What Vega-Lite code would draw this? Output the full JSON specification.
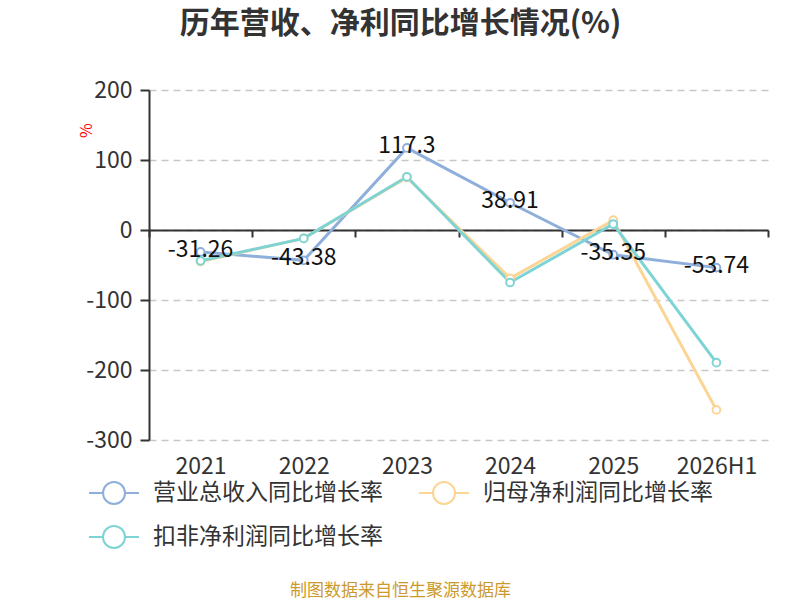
{
  "$schema": "https://vega.github.io/schema/vega-lite/v6.json",
  "width": 619,
  "height": 350,
  "autosize": {"type": "none"},
  "padding": {"left": 149, "top": 90, "right": 32, "bottom": 160},
  "background": "white",
  "title": {
    "text": "历年营收、净利同比增长情况(%)",
    "fontSize": 30,
    "fontWeight": "bold",
    "color": "#333333",
    "font": "Noto Sans CJK SC",
    "anchor": "middle",
    "frame": "group",
    "dx": -58,
    "baseline": "middle",
    "offset": 25
  },
  "config": {
    "view": {"stroke": null},
    "font": "Noto Sans CJK SC"
  },
  "data": {
    "values": [
      {"year": "2021", "series": "营业总收入同比增长率", "value": -31.26},
      {"year": "2022", "series": "营业总收入同比增长率", "value": -43.38},
      {"year": "2023", "series": "营业总收入同比增长率", "value": 117.3},
      {"year": "2024", "series": "营业总收入同比增长率", "value": 38.91},
      {"year": "2025", "series": "营业总收入同比增长率", "value": -35.35},
      {"year": "2026H1", "series": "营业总收入同比增长率", "value": -53.74},
      {"year": "2021", "series": "归母净利润同比增长率", "value": -45},
      {"year": "2022", "series": "归母净利润同比增长率", "value": -12},
      {"year": "2023", "series": "归母净利润同比增长率", "value": 75},
      {"year": "2024", "series": "归母净利润同比增长率", "value": -69},
      {"year": "2025", "series": "归母净利润同比增长率", "value": 14},
      {"year": "2026H1", "series": "归母净利润同比增长率", "value": -257},
      {"year": "2021", "series": "扣非净利润同比增长率", "value": -44},
      {"year": "2022", "series": "扣非净利润同比增长率", "value": -12},
      {"year": "2023", "series": "扣非净利润同比增长率", "value": 76},
      {"year": "2024", "series": "扣非净利润同比增长率", "value": -75},
      {"year": "2025", "series": "扣非净利润同比增长率", "value": 8.5},
      {"year": "2026H1", "series": "扣非净利润同比增长率", "value": -189.5}
    ]
  },
  "encoding": {
    "x": {
      "field": "year",
      "type": "nominal",
      "sort": null,
      "bandPosition": 0.5,
      "scale": {"type": "band", "paddingInner": 0, "paddingOuter": 0},
      "axis": {
        "title": "制图数据来自恒生聚源数据库",
        "titleColor": "#cc9a2c",
        "titleFontSize": 17,
        "titleFontWeight": "normal",
        "titleX": 251,
        "titleY": 360,
        "titleAlign": "center",
        "titleBaseline": "middle",
        "titleAngle": 0,
        "offset": -210,
        "labelAngle": 0,
        "labelFontSize": 23,
        "labelColor": "#333333",
        "labelPadding": 218,
        "labelBaseline": "top",
        "domainColor": "#333333",
        "domainWidth": 2,
        "tickColor": "#333333",
        "tickWidth": 2,
        "tickSize": 7,
        "tickBand": "extent",
        "grid": false
      }
    },
    "y": {
      "field": "value",
      "type": "quantitative",
      "scale": {"domain": [-300, 200], "nice": false},
      "axis": {
        "values": [-300, -200, -100, 0, 100, 200],
        "labelExpr": "'' + datum.value",
        "title": "%",
        "titleColor": "#ff0000",
        "titleFontSize": 16,
        "titleFontWeight": "normal",
        "titleX": -63,
        "titleY": 40,
        "titleAlign": "center",
        "titleBaseline": "middle",
        "labelFontSize": 23,
        "labelColor": "#333333",
        "labelPadding": 8,
        "domainColor": "#333333",
        "domainWidth": 2,
        "tickColor": "#333333",
        "tickWidth": 2,
        "tickSize": 9,
        "grid": true,
        "gridColor": "#c8c8c8",
        "gridDash": [7, 5],
        "gridWidth": 1.5
      }
    },
    "color": {
      "field": "series",
      "type": "nominal",
      "scale": {
        "domain": ["营业总收入同比增长率", "归母净利润同比增长率", "扣非净利润同比增长率"],
        "range": ["#8eaedb", "#fcd494", "#7ed3d5"]
      },
      "legend": {
        "title": null,
        "orient": "none",
        "legendX": -47,
        "legendY": 391,
        "direction": "horizontal",
        "columns": 2,
        "padding": 0,
        "columnPadding": 32,
        "rowPadding": 14,
        "symbolType": "M-2.27,0H-1M1,0H2.27M1,0A1,1,0,1,1,-1,0A1,1,0,1,1,1,0",
        "symbolSize": 484,
        "symbolStrokeWidth": 2,
        "symbolFillColor": "white",
        "labelFontSize": 23,
        "labelColor": "#333333",
        "labelOffset": 27,
        "labelLimit": 400
      }
    }
  },
  "layer": [
    {"mark": {"type": "line", "strokeWidth": 3}},
    {"mark": {"type": "point", "filled": false, "fill": "white", "fillOpacity": 1, "opacity": 1, "size": 60, "strokeWidth": 2}},
    {
      "transform": [{"filter": "datum.series === '营业总收入同比增长率'"}],
      "mark": {"type": "text", "fontSize": 23, "baseline": "middle", "dy": -2},
      "encoding": {
        "text": {"field": "value", "type": "nominal"},
        "color": {"value": "#111111"}
      }
    }
  ]
}
